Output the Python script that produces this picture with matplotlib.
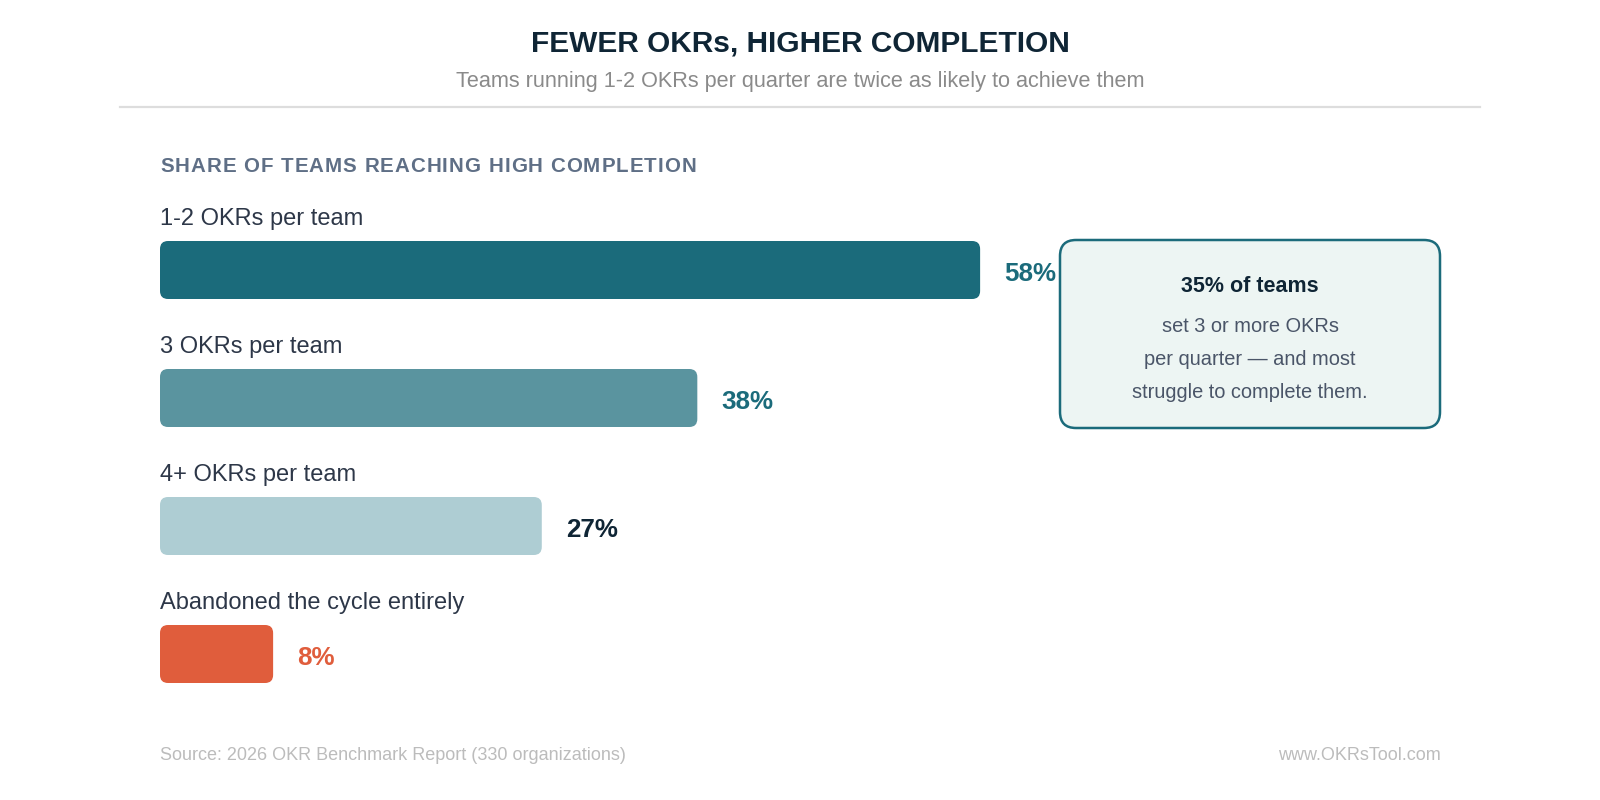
import matplotlib
matplotlib.use("Agg")
import matplotlib.pyplot as plt
from matplotlib.patches import FancyBboxPatch
from matplotlib.lines import Line2D
from matplotlib.font_manager import FontProperties

plt.rcParams['font.family'] = ['Liberation Sans', 'DejaVu Sans']

# ---- data ----
categories = ["1-2 OKRs per team", "3 OKRs per team", "4+ OKRs per team",
              "Abandoned the cycle entirely"]
values = [58, 38, 27, 8]
bar_colors = ["#1b6b7b", "#5a949f", "#aecdd3", "#e05d3c"]
label_colors = ["#1b6b7b", "#1b6b7b", "#0f2535", "#e05d3c"]

title = "FEWER OKRs, HIGHER COMPLETION"
subtitle = "Teams running 1-2 OKRs per quarter are twice as likely to achieve them"
section = "SHARE OF TEAMS REACHING HIGH COMPLETION"
callout_head = "35% of teams"
callout_body = ["set 3 or more OKRs", "per quarter \u2014 and most",
                "struggle to complete them."]
source = "Source: 2026 OKR Benchmark Report (330 organizations)"
site = "www.OKRsTool.com"

W, H = 1600, 800
fig = plt.figure(figsize=(16, 8), dpi=100)
fig.patch.set_facecolor("white")
renderer = fig.canvas.get_renderer()

def fx(px):
    return px / W

def fy(py):
    return 1 - py / H

def spaced_text(x_px, y_px, s, spacing_px, **kw):
    prop = FontProperties(family=['Liberation Sans', 'DejaVu Sans'],
                          size=kw.get("fontsize"), weight=kw.get("fontweight", "normal"))
    w_bar = renderer.get_text_width_height_descent("|", prop, ismath=False)[0]
    for k, ch in enumerate(s):
        w = renderer.get_text_width_height_descent(s[:k] + "|", prop, ismath=False)[0] - w_bar
        if k == 0:
            w = 0
        fig.text(fx(x_px + w + k * spacing_px), fy(y_px), ch, ha="left",
                 va="baseline", **kw)

# titles
fig.text(0.5, fy(44), title, ha="center", va="center", fontsize=21.5,
         fontweight="bold", color="#0f2535")
fig.text(0.5, fy(82), subtitle, ha="center", va="center", fontsize=15.6,
         color="#8a8a8a")
fig.add_artist(Line2D([fx(120), fx(1480)], [fy(107), fy(107)],
                      color="#dddddd", lw=1.6))
spaced_text(160, 171.5, section, 1.0, fontsize=14.8, fontweight="bold",
            color="#5f6f86")

# bars axes
ax_left, ax_right = 160, 1574
ax_top, ax_bot = 206, 718
ax = fig.add_axes([fx(ax_left), fy(ax_bot), (ax_right - ax_left) / W,
                   (ax_bot - ax_top) / H])
ax.set_xlim(0, 100)
ax.set_ylim(len(categories) - 0.5, -0.5)
ax.axis("off")

px_per_x = (ax_right - ax_left) / 100
px_per_y = (ax_bot - ax_top) / len(categories)
bar_h = 58 / px_per_y
aspect = px_per_x / px_per_y
radius_px = 8

for i, (cat, v, bc, lc) in enumerate(zip(categories, values, bar_colors, label_colors)):
    patch = FancyBboxPatch((0, i - bar_h / 2), v, bar_h,
                           boxstyle=f"round,pad=0,rounding_size={radius_px / px_per_x}",
                           mutation_aspect=aspect, facecolor=bc, edgecolor="none")
    ax.add_patch(patch)
    ax.text(0, i - 51 / px_per_y, cat, ha="left", va="center", fontsize=17,
            color="#2d3748")
    ax.text(v + 24 / px_per_x, i + 4 / px_per_y, f"{v}%", ha="left", va="center",
            fontsize=18.7, fontweight="bold", color=lc)

# callout box
bx0, bx1, by0, by1 = 1060, 1440, 240, 428
box = FancyBboxPatch((fx(bx0), fy(by1)), fx(bx1 - bx0), (by1 - by0) / H,
                     boxstyle=f"round,pad=0,rounding_size={16 / W}",
                     mutation_aspect=W / H, transform=fig.transFigure,
                     facecolor="#edf5f3", edgecolor="#1b6b7b", lw=1.8)
fig.add_artist(box)
cx = fx((bx0 + bx1) / 2)
fig.text(cx, fy(286), callout_head, ha="center", va="center", fontsize=15.5,
         fontweight="bold", color="#0f2535")
for k, line in enumerate(callout_body):
    fig.text(cx, fy(327 + 32.5 * k), line, ha="center", va="center",
             fontsize=14.4, color="#4a5568")

# footer
fig.text(fx(160), fy(755), source, ha="left", va="center", fontsize=13,
         color="#bcbcbc")
fig.text(fx(1441), fy(755), site, ha="right", va="center", fontsize=13,
         color="#bcbcbc")

fig.savefig("out.png", dpi=100, facecolor="white")
